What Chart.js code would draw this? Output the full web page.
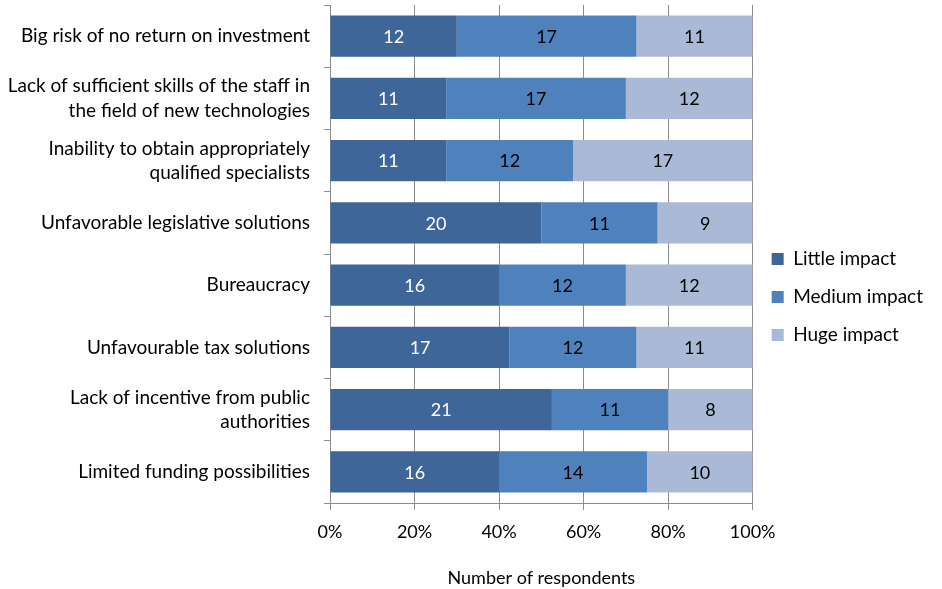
<!DOCTYPE html>
<html>
<head>
<meta charset="utf-8">
<script src="https://cdn.jsdelivr.net/npm/chart.js@4/dist/chart.umd.min.js"></script>
<style>
  html, body { margin: 0; padding: 0; background: #fff; }
  #wrap { width: 942px; height: 589px; }
</style>
</head>
<body>
<div id="wrap"><canvas id="impactChart" width="942" height="589"></canvas></div>
<script>
const categories = [
    "Big risk of no return on investment",
    ["Lack of sufficient skills of the staff in", "the field of new technologies"],
    ["Inability to obtain appropriately", "qualified specialists"],
    "Unfavorable legislative solutions",
    "Bureaucracy",
    "Unfavourable tax solutions",
    ["Lack of incentive from public", "authorities"],
    "Limited funding possibilities"
];
const littleImpact = [12, 11, 11, 20, 16, 17, 21, 16];
const mediumImpact = [17, 17, 12, 11, 12, 12, 11, 14];
const hugeImpact   = [11, 12, 17,  9, 12, 11,  8, 10];
const xTicks = [0, 20, 40, 60, 80, 100];

const totals = categories.map((c, i) => littleImpact[i] + mediumImpact[i] + hugeImpact[i]);
const pct = arr => arr.map((v, i) => v / totals[i] * 100);

const FONT = "Lato, 'Open Sans', sans-serif";

// draws the raw counts in the middle of each bar segment
const countLabels = {
    id: "countLabels",
    afterDatasetsDraw(chart) {
        const ctx = chart.ctx;
        ctx.save();
        ctx.font = "18px " + FONT;
        ctx.textAlign = "center";
        ctx.textBaseline = "middle";
        chart.data.datasets.forEach((ds, di) => {
            const meta = chart.getDatasetMeta(di);
            meta.data.forEach((bar, i) => {
                const cx = (bar.x + bar.base) / 2;
                ctx.fillStyle = ds.labelColor;
                ctx.fillText(ds.counts[i], cx, bar.y + 1);
            });
        });
        ctx.restore();
    }
};

new Chart(document.getElementById("impactChart"), {
    type: "bar",
    data: {
        labels: categories,
        datasets: [
            { label: "Little impact", data: pct(littleImpact), counts: littleImpact, backgroundColor: "#3E6699", labelColor: "#ffffff" },
            { label: "Medium impact", data: pct(mediumImpact), counts: mediumImpact, backgroundColor: "#4F81BD", labelColor: "#000000" },
            { label: "Huge impact", data: pct(hugeImpact), counts: hugeImpact, backgroundColor: "#AAB9D6", labelColor: "#000000" }
        ]
    },
    options: {
        indexAxis: "y",
        responsive: false,
        animation: false,
        categoryPercentage: 1,
        barPercentage: 0.66,
        layout: { padding: { top: 5, right: 9, left: 0, bottom: 0 } },
        plugins: {
            legend: {
                position: "right",
                labels: {
                    font: { family: FONT, size: 19 },
                    color: "#000",
                    boxWidth: 12,
                    boxHeight: 12,
                    padding: 19
                }
            },
            tooltip: { enabled: false }
        },
        scales: {
            x: {
                stacked: true,
                min: 0,
                max: 100,
                afterBuildTicks: axis => { axis.ticks = xTicks.map(v => ({ value: v })); },
                ticks: {
                    callback: v => v + "%",
                    font: { family: FONT, size: 18 },
                    color: "#000",
                    padding: 11
                },
                grid: { color: "#8c8c8c", lineWidth: 1, tickLength: 7 },
                border: { color: "#8c8c8c" },
                title: {
                    display: true,
                    text: "Number of respondents",
                    font: { family: FONT, size: 18 },
                    color: "#000",
                    padding: { top: 24, bottom: 0 }
                },
                afterFit: axis => { axis.height = 86; }
            },
            y: {
                stacked: true,
                ticks: {
                    font: { family: FONT, size: 19, lineHeight: 1.27 },
                    color: "#000",
                    padding: 14
                },
                grid: { offset: true, drawOnChartArea: false, color: "#8c8c8c", tickLength: 6 },
                border: { color: "#8c8c8c" },
                afterFit: axis => {
                    axis.width = 330;
                    axis.paddingTop = 0;
                    axis.paddingBottom = 0;
                }
            }
        }
    },
    plugins: [countLabels]
});
</script>
</body>
</html>
